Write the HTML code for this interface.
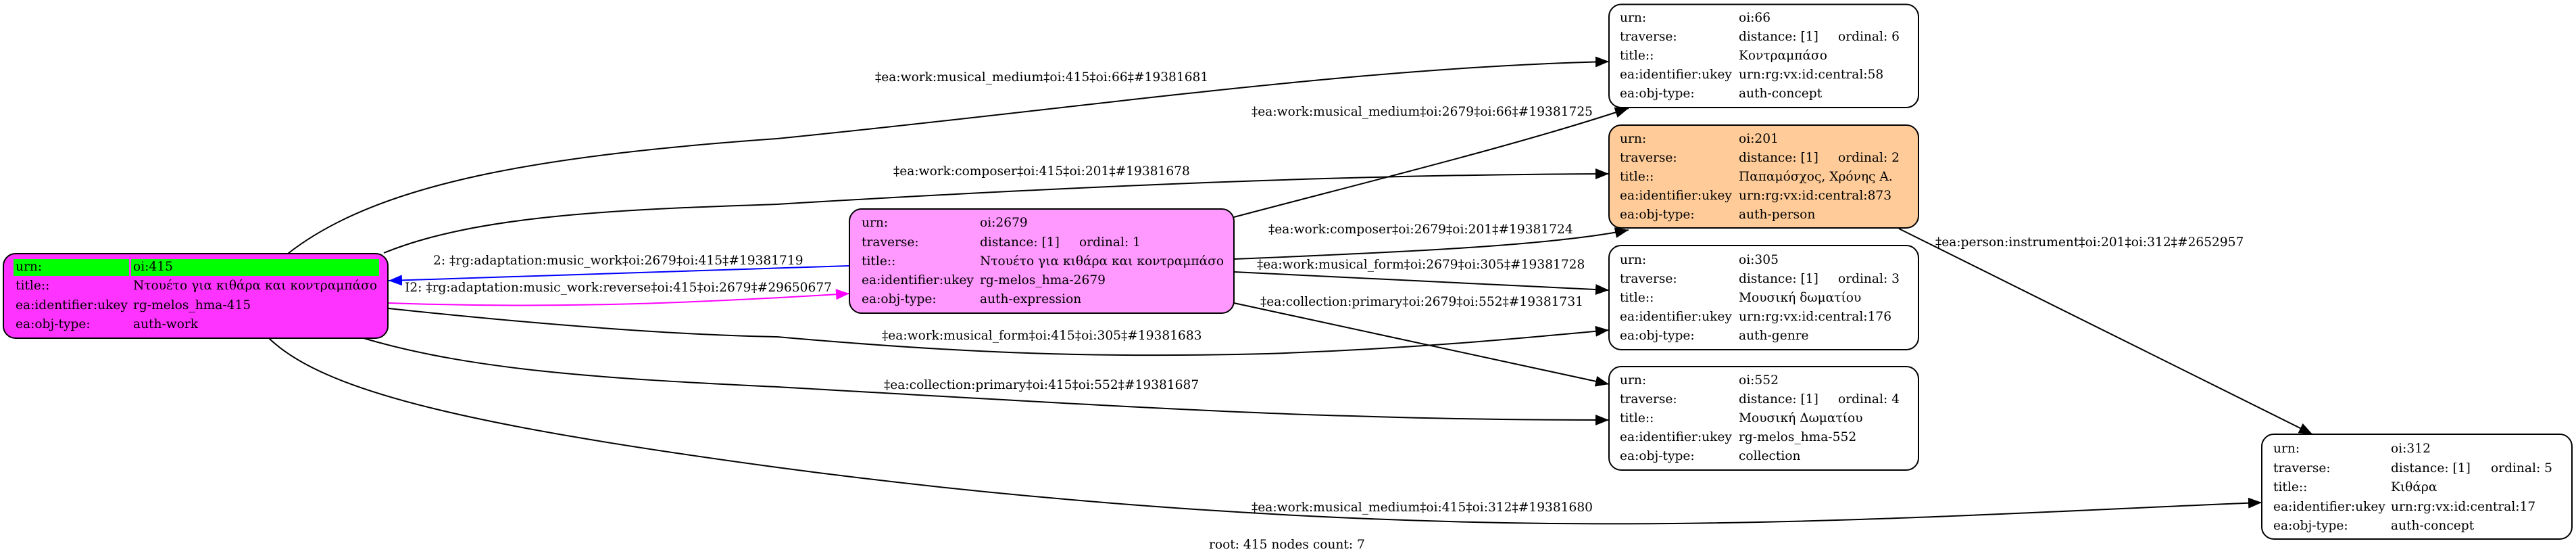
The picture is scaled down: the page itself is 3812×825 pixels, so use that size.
<!DOCTYPE html>
<html><head><meta charset="utf-8"><style>
html,body{margin:0;padding:0;background:#fff;}
svg{display:block;}
text{font-family:"DejaVu Serif","Liberation Serif","Noto Serif CJK SC",serif;font-size:18.6px;fill:#000;}
</style></head><body>
<svg width="3812" height="825" viewBox="0 0 3812 825" xmlns="http://www.w3.org/2000/svg">
<defs>
<marker id="ab" markerUnits="userSpaceOnUse" markerWidth="22" markerHeight="16" refX="20" refY="8" orient="auto"><path d="M0,0 L20,8 L0,16 z" fill="#000"/></marker>
<marker id="abl" markerUnits="userSpaceOnUse" markerWidth="22" markerHeight="16" refX="20" refY="8" orient="auto"><path d="M0,0 L20,8 L0,16 z" fill="#0000ff"/></marker>
<marker id="amg" markerUnits="userSpaceOnUse" markerWidth="22" markerHeight="16" refX="20" refY="8" orient="auto"><path d="M0,0 L20,8 L0,16 z" fill="#ff00ff"/></marker>
</defs>
<g fill="none" stroke="#000" stroke-width="2">
<path d="M426,375 C560,270 800,230 1150,205 C1600,160 2000,100 2381,91" marker-end="url(#ab)"/>
<path d="M568,374 C700,320 900,310 1150,302 C1600,275 2000,258 2381,257" marker-end="url(#ab)"/>
<path d="M575,456 C800,480 1000,495 1150,498 C1400,520 1600,530 1875,523 C2100,515 2250,500 2381,488" marker-end="url(#ab)"/>
<path d="M538,500 C700,548 900,560 1150,572 C1500,592 1800,610 2000,615 C2150,620 2300,621 2381,621" marker-end="url(#ab)"/>
<path d="M398,500 C480,580 700,630 1150,691 C1500,738 1900,770 2300,774 C2700,778 3100,752 3347,743" marker-end="url(#ab)"/>
<path d="M1826,321 C2050,262 2250,213 2410,160" marker-end="url(#ab)"/>
<path d="M1826,383 C2100,372 2300,362 2410,340" marker-end="url(#ab)"/>
<path d="M1826,402 L2381,429" marker-end="url(#ab)"/>
<path d="M1826,448 L2381,568" marker-end="url(#ab)"/>
<path d="M2810,338 L3422,642" marker-end="url(#ab)"/>
<path d="M1257,393 L575,415" stroke="#0000ff" marker-end="url(#abl)"/>
<path d="M575,448 C800,456 1000,450 1257,434" stroke="#ff00ff" marker-end="url(#amg)"/>
</g>

<!-- edge labels -->
<text x="1295" y="120">‡ea:work:musical_medium‡oi:415‡oi:66‡#19381681</text>
<text x="1852" y="171">‡ea:work:musical_medium‡oi:2679‡oi:66‡#19381725</text>
<text x="1322" y="259">‡ea:work:composer‡oi:415‡oi:201‡#19381678</text>
<text x="1877" y="345">‡ea:work:composer‡oi:2679‡oi:201‡#19381724</text>
<text x="2864" y="364">‡ea:person:instrument‡oi:201‡oi:312‡#2652957</text>
<text x="641" y="391">2: ‡rg:adaptation:music_work‡oi:2679‡oi:415‡#19381719</text>
<text x="1860" y="397">‡ea:work:musical_form‡oi:2679‡oi:305‡#19381728</text>
<text x="599" y="431">I2: ‡rg:adaptation:music_work:reverse‡oi:415‡oi:2679‡#29650677</text>
<text x="1865" y="452">‡ea:collection:primary‡oi:2679‡oi:552‡#19381731</text>
<text x="1305" y="502">‡ea:work:musical_form‡oi:415‡oi:305‡#19381683</text>
<text x="1308" y="575">‡ea:collection:primary‡oi:415‡oi:552‡#19381687</text>
<text x="1852" y="756">‡ea:work:musical_medium‡oi:415‡oi:312‡#19381680</text>
<text x="1789" y="811">root: 415 nodes count: 7</text>

<!-- N415 -->
<rect x="5" y="375" width="569" height="125" rx="18" fill="#ff33ff" stroke="#000" stroke-width="2"/>
<rect x="20" y="383" width="171" height="25" fill="#00ff00"/>
<rect x="194" y="383" width="367" height="25" fill="#00ff00"/>
<text x="23" y="400">urn:</text><text x="197" y="400">oi:415</text>
<text x="23" y="428">title::</text><text x="197" y="428">Ντουέτο για κιθάρα και κοντραμπάσο</text>
<text x="23" y="457">ea:identifier:ukey</text><text x="197" y="457">rg-melos_hma-415</text>
<text x="23" y="485">ea:obj-type:</text><text x="197" y="485">auth-work</text>

<!-- N2679 -->
<rect x="1257" y="309" width="569" height="154" rx="18" fill="#ff99ff" stroke="#000" stroke-width="2"/>
<text x="1275" y="335">urn:</text><text x="1450" y="335">oi:2679</text>
<text x="1275" y="364">traverse:</text><text x="1450" y="364">distance: [1]</text><text x="1597" y="364">ordinal: 1</text>
<text x="1275" y="392">title::</text><text x="1450" y="392">Ντουέτο για κιθάρα και κοντραμπάσο</text>
<text x="1275" y="420">ea:identifier:ukey</text><text x="1450" y="420">rg-melos_hma-2679</text>
<text x="1275" y="448">ea:obj-type:</text><text x="1450" y="448">auth-expression</text>

<!-- N66 -->
<rect x="2381" y="6.5" width="458" height="152.5" rx="18" fill="#fff" stroke="#000" stroke-width="2"/>
<text x="2397" y="32">urn:</text><text x="2573" y="32">oi:66</text>
<text x="2397" y="60">traverse:</text><text x="2573" y="60">distance: [1]</text><text x="2720" y="60">ordinal: 6</text>
<text x="2397" y="88">title::</text><text x="2573" y="88">Κοντραμπάσο</text>
<text x="2397" y="116">ea:identifier:ukey</text><text x="2573" y="116">urn:rg:vx:id:central:58</text>
<text x="2397" y="144">ea:obj-type:</text><text x="2573" y="144">auth-concept</text>

<!-- N201 -->
<rect x="2381" y="185" width="458" height="152" rx="18" fill="#ffcc99" stroke="#000" stroke-width="2"/>
<text x="2397" y="211">urn:</text><text x="2573" y="211">oi:201</text>
<text x="2397" y="239">traverse:</text><text x="2573" y="239">distance: [1]</text><text x="2720" y="239">ordinal: 2</text>
<text x="2397" y="267">title::</text><text x="2573" y="267">Παπαμόσχος, Χρόνης Α.</text>
<text x="2397" y="295">ea:identifier:ukey</text><text x="2573" y="295">urn:rg:vx:id:central:873</text>
<text x="2397" y="323">ea:obj-type:</text><text x="2573" y="323">auth-person</text>

<!-- N305 -->
<rect x="2381" y="363" width="458" height="154" rx="18" fill="#fff" stroke="#000" stroke-width="2"/>
<text x="2397" y="390">urn:</text><text x="2573" y="390">oi:305</text>
<text x="2397" y="418">traverse:</text><text x="2573" y="418">distance: [1]</text><text x="2720" y="418">ordinal: 3</text>
<text x="2397" y="446">title::</text><text x="2573" y="446">Μουσική δωματίου</text>
<text x="2397" y="474">ea:identifier:ukey</text><text x="2573" y="474">urn:rg:vx:id:central:176</text>
<text x="2397" y="502">ea:obj-type:</text><text x="2573" y="502">auth-genre</text>

<!-- N552 -->
<rect x="2381" y="542" width="458" height="153" rx="18" fill="#fff" stroke="#000" stroke-width="2"/>
<text x="2397" y="568">urn:</text><text x="2573" y="568">oi:552</text>
<text x="2397" y="596">traverse:</text><text x="2573" y="596">distance: [1]</text><text x="2720" y="596">ordinal: 4</text>
<text x="2397" y="624">title::</text><text x="2573" y="624">Μουσική Δωματίου</text>
<text x="2397" y="652">ea:identifier:ukey</text><text x="2573" y="652">rg-melos_hma-552</text>
<text x="2397" y="680">ea:obj-type:</text><text x="2573" y="680">collection</text>

<!-- N312 -->
<rect x="3347" y="642" width="459" height="155" rx="18" fill="#fff" stroke="#000" stroke-width="2"/>
<text x="3364" y="669">urn:</text><text x="3538" y="669">oi:312</text>
<text x="3364" y="698">traverse:</text><text x="3538" y="698">distance: [1]</text><text x="3686" y="698">ordinal: 5</text>
<text x="3364" y="726">title::</text><text x="3538" y="726">Κιθάρα</text>
<text x="3364" y="755">ea:identifier:ukey</text><text x="3538" y="755">urn:rg:vx:id:central:17</text>
<text x="3364" y="783">ea:obj-type:</text><text x="3538" y="783">auth-concept</text>
</svg>
</body></html>
